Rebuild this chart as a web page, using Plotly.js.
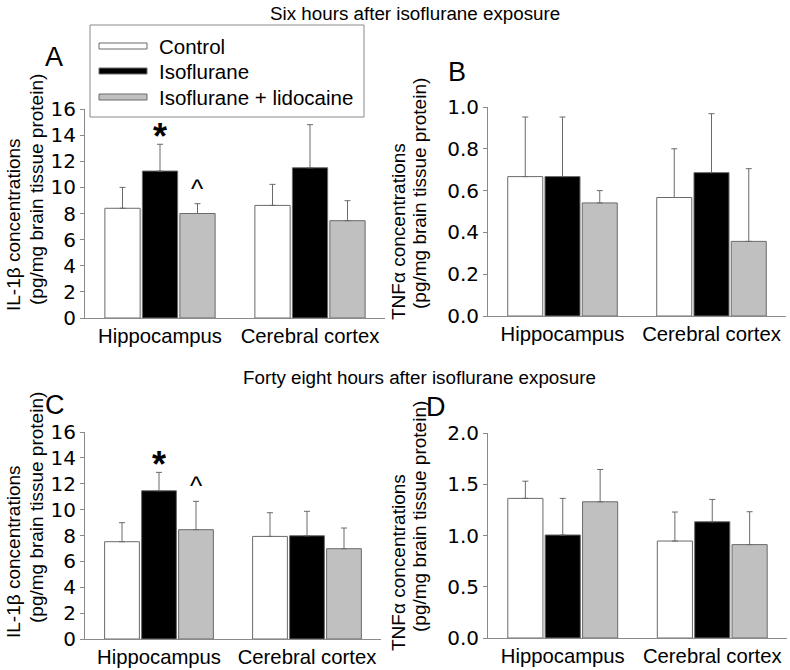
<!DOCTYPE html>
<html><head><meta charset="utf-8">
<script src="https://cdn.plot.ly/plotly-3.0.1.min.js"></script>
<style>body{margin:0;background:#fff}#chart{width:790px;height:670px}</style>
</head><body><div id="chart"></div>
<script>
// ---- data ----
const regions = ['Hippocampus', 'Cerebral cortex'];
const seriesNames = ['Control', 'Isoflurane', 'Isoflurane + lidocaine'];
const seriesColors = ['#ffffff', '#000000', '#c0c0c0'];

// Panel A: IL-1β, six hours (mean, SD)
const A_control = [8.40, 8.62];  const A_control_sd = [1.60, 1.61];
const A_iso = [11.25, 11.50];    const A_iso_sd = [2.05, 3.30];
const A_lido = [8.00, 7.45];     const A_lido_sd = [0.75, 1.53];
// Panel B: TNFα, six hours
const B_control = [0.667, 0.567]; const B_control_sd = [0.285, 0.233];
const B_iso = [0.667, 0.686];     const B_iso_sd = [0.285, 0.282];
const B_lido = [0.541, 0.357];    const B_lido_sd = [0.059, 0.348];
// Panel C: IL-1β, forty eight hours
const C_control = [7.52, 7.93];  const C_control_sd = [1.47, 1.83];
const C_iso = [11.46, 7.98];     const C_iso_sd = [1.42, 1.89];
const C_lido = [8.45, 6.98];     const C_lido_sd = [2.19, 1.60];
// Panel D: TNFα, forty eight hours
const D_control = [1.362, 0.946]; const D_control_sd = [0.168, 0.283];
const D_iso = [1.005, 1.134];     const D_iso_sd = [0.357, 0.218];
const D_lido = [1.329, 0.911];    const D_lido_sd = [0.315, 0.321];

const yTitleIL = ['IL-1β concentrations', '(pg/mg brain tissue protein)'];
const yTitleTNF = ['TNFα concentrations', '(pg/mg brain tissue protein)'];
const topTitle = 'Six hours after isoflurane exposure';
const bottomTitle = 'Forty eight hours after isoflurane exposure';
const panelLetters = ['A', 'B', 'C', 'D'];

// ---- build ----
const W = 790, H = 670;
const FONT = 'Liberation Sans, Arial, sans-serif';
const TICKFONT = 'DejaVu Sans, Liberation Sans, sans-serif';
const edge = '#6a6a6a';
const panels = [
  {xa: 'x', ya: 'y', series: [[A_control, A_control_sd], [A_iso, A_iso_sd], [A_lido, A_lido_sd]]},
  {xa: 'x2', ya: 'y2', series: [[B_control, B_control_sd], [B_iso, B_iso_sd], [B_lido, B_lido_sd]]},
  {xa: 'x3', ya: 'y3', series: [[C_control, C_control_sd], [C_iso, C_iso_sd], [C_lido, C_lido_sd]]},
  {xa: 'x4', ya: 'y4', series: [[D_control, D_control_sd], [D_iso, D_iso_sd], [D_lido, D_lido_sd]]}
];
const traces = [];
panels.forEach(p => {
  p.series.forEach((s, i) => {
    traces.push({
      type: 'bar', x: regions, y: s[0], name: seriesNames[i], showlegend: false,
      xaxis: p.xa, yaxis: p.ya, offsetgroup: String(i),
      marker: {color: seriesColors[i], line: {color: edge, width: 1}},
      error_y: {type: 'data', symmetric: false, array: s[1], arrayminus: s[1].map(() => 0),
                color: edge, thickness: 1, width: 3},
      hoverinfo: 'skip'
    });
  });
});

function px(x0, x1) { return [x0 / W, x1 / W]; }
function py(ytop, ybot) { return [(H - ybot) / H, (H - ytop) / H]; }

function xAxis(dom, anchor) {
  return {domain: dom, anchor: anchor, type: 'category', range: [-0.5, 1.5],
    showline: true, linecolor: '#8a8a8a', linewidth: 1, ticks: '', showgrid: false,
    tickfont: {family: FONT, size: 20.3, color: '#000'}, fixedrange: true};
}
function yAxis(dom, anchor, rng, dt, fmt) {
  return {domain: dom, anchor: anchor, range: rng, dtick: dt, tickformat: fmt,
    showline: true, linecolor: '#8a8a8a', linewidth: 1, ticks: 'outside', ticklen: 4,
    tickcolor: '#8a8a8a', showgrid: false, zeroline: false,
    tickfont: {family: TICKFONT, size: 20, color: '#000'}, fixedrange: true};
}

const shapes = [];
const annotations = [];
// custom legend
shapes.push({type: 'rect', xref: 'paper', yref: 'paper', x0: 90 / W, x1: 364 / W,
  y0: (H - 117) / H, y1: (H - 25) / H, line: {color: '#8a8a8a', width: 1}, fillcolor: 'rgba(0,0,0,0)'});
const legY = [46, 71, 97];
seriesNames.forEach((n, i) => {
  shapes.push({type: 'rect', xref: 'paper', yref: 'paper', x0: 99 / W, x1: 147 / W,
    y0: (H - legY[i] - 3) / H, y1: (H - legY[i] + 3) / H,
    line: {color: edge, width: 1}, fillcolor: seriesColors[i]});
  annotations.push({xref: 'paper', yref: 'paper', x: 157 / W, y: (H - legY[i]) / H,
    xanchor: 'left', yanchor: 'middle', text: n, showarrow: false,
    font: {family: FONT, size: 20.5, color: '#000'}});
});
// headings
annotations.push({xref: 'paper', yref: 'paper', x: 415 / W, y: (H - 14) / H, text: topTitle,
  showarrow: false, xanchor: 'center', yanchor: 'middle', font: {family: FONT, size: 18.8, color: '#000'}});
annotations.push({xref: 'paper', yref: 'paper', x: 420 / W, y: (H - 378) / H, text: bottomTitle,
  showarrow: false, xanchor: 'center', yanchor: 'middle', font: {family: FONT, size: 18.8, color: '#000'}});
// y-axis titles (one annotation per line, rotated)
const yTitles = [
  [yTitleIL, [[14, 225], [36, 190]]],
  [yTitleTNF, [[398, 232], [419, 194]]],
  [yTitleIL, [[13, 552], [36, 508]]],
  [yTitleTNF, [[398, 563], [419, 517]]]
];
yTitles.forEach(t => {
  t[0].forEach((line, j) => {
    annotations.push({xref: 'paper', yref: 'paper', x: t[1][j][0] / W, y: (H - t[1][j][1]) / H,
      text: line, textangle: -90, showarrow: false, xanchor: 'center', yanchor: 'middle',
      font: {family: FONT, size: 19, color: '#000'}});
  });
});
// panel letters
const letterPos = [[54, 57], [457, 72], [55, 405], [436, 407]];
panelLetters.forEach((L, i) => {
  annotations.push({xref: 'paper', yref: 'paper', x: letterPos[i][0] / W, y: (H - letterPos[i][1]) / H,
    text: L, showarrow: false, xanchor: 'center', yanchor: 'middle',
    font: {family: FONT, size: 27, color: '#000'}});
});
// significance marks
function mark(xa, ya, cat, shift, yv, txt, sz, ys) {
  annotations.push({xref: xa, yref: ya, x: cat, y: yv, xshift: shift, yshift: ys, text: txt,
    showarrow: false, xanchor: 'center', yanchor: 'bottom',
    font: {family: FONT, size: sz, color: '#000'}});
}
mark('x', 'y', regions[0], 0, A_iso[0] + A_iso_sd[0], '<b>*</b>', 36, -15);
mark('x', 'y', regions[0], 37, A_lido[0] + A_lido_sd[0], '^', 26, -2);
mark('x3', 'y3', regions[0], 0, C_iso[0] + C_iso_sd[0], '<b>*</b>', 36, -15);
mark('x3', 'y3', regions[0], 37, C_lido[0] + C_lido_sd[0], '^', 26, -2);

const layout = {
  width: W, height: H, margin: {l: 0, r: 0, t: 0, b: 0},
  paper_bgcolor: '#fff', plot_bgcolor: '#fff', showlegend: false,
  barmode: 'group', bargap: 0.25, bargroupgap: 0.06,
  font: {family: FONT, color: '#000'},
  xaxis: xAxis(px(85, 385), 'y'),
  yaxis: yAxis(py(109, 318), 'x', [0, 16], 2, 'd'),
  xaxis2: xAxis(px(488, 786), 'y2'),
  yaxis2: yAxis(py(107, 316), 'x2', [0, 1], 0.2, '.1f'),
  xaxis3: xAxis(px(85, 381), 'y3'),
  yaxis3: yAxis(py(432, 639), 'x3', [0, 16], 2, 'd'),
  xaxis4: xAxis(px(488, 787), 'y4'),
  yaxis4: yAxis(py(433, 638), 'x4', [0, 2], 0.5, '.1f'),
  shapes: shapes, annotations: annotations
};
Plotly.newPlot('chart', traces, layout, {staticPlot: true, displayModeBar: false});
</script></body></html>
